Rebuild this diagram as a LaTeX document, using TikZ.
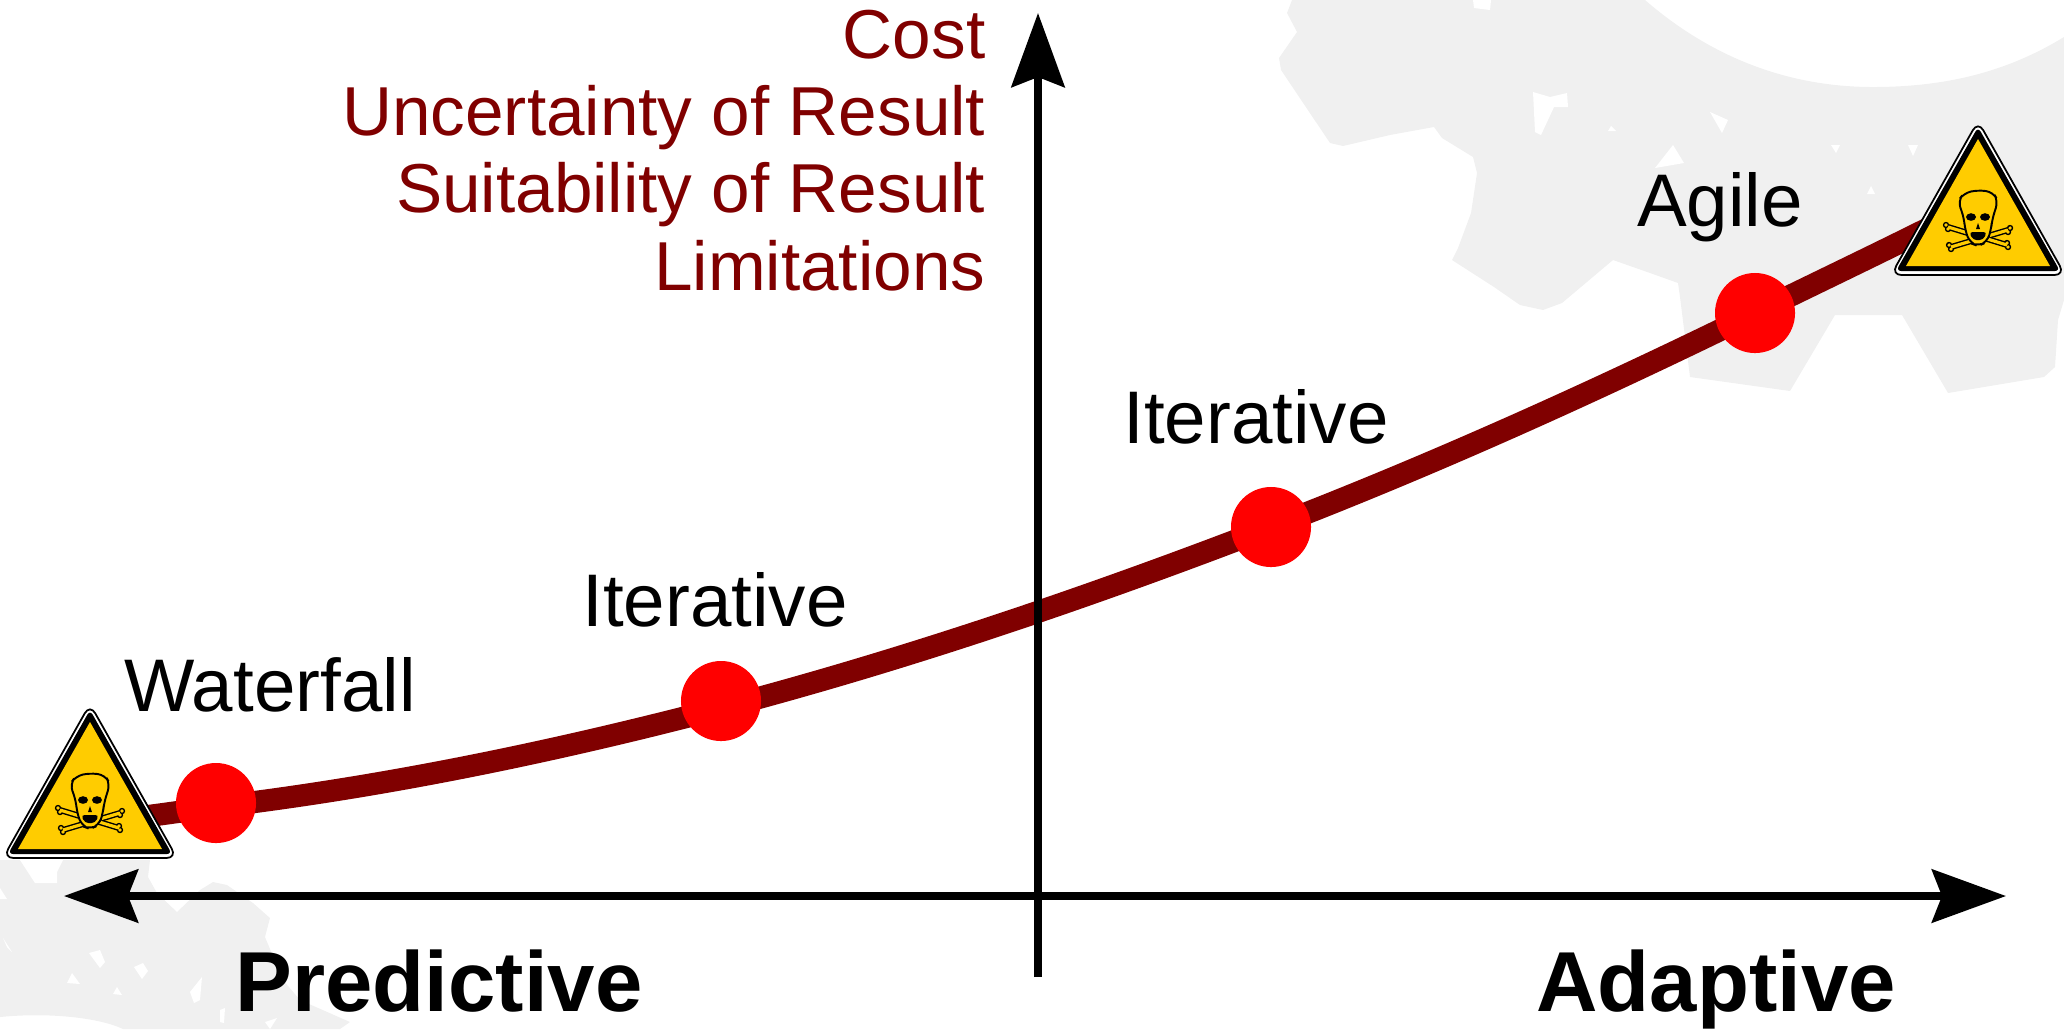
\documentclass[tikz,border=0pt]{standalone}
\usepackage{fontspec}
\setmainfont{Liberation Sans}
\usetikzlibrary{
    arrows.meta,
    backgrounds
}
\definecolor{signyellow}{HTML}{FFCC00}
\definecolor{curvered}{HTML}{800000}
\definecolor{blobgray}{HTML}{F0F0F0}
\newcommand{\hazardsign}[1]{%
    \begin{scope}[shift={(#1)}]
        \filldraw[fill=white, draw=black, line width=0.5pt, rounded corners=3pt] (0,-154) -- (-87,0) -- (87,0) -- cycle;
        \fill[black, rounded corners=1.5pt] (0,-148) -- (-82,-4) -- (82,-4) -- cycle;
        \fill[signyellow] (0,-136) -- (-72,-9) -- (72,-9) -- cycle;
        % Bones
        \foreach \kx/\ky in {-32/-50, -30/-46, 29/-32, 30/-28, 32/-47, 30/-43, -29/-30, -27/-26} {
            \fill[black] (\kx,\ky) circle (3.2);
        }
        \foreach \bx/\by/\ex/\ey in {-30/-48/29/-30, 30/-45/-27/-28} {
            \draw[black, line width=1.7pt] (\bx,\by) -- (\ex,\ey);
        }
        \foreach \kx/\ky in {-32/-50, -30/-46, 29/-32, 30/-28, 32/-47, 30/-43, -29/-30, -27/-26} {
            \fill[signyellow] (\kx,\ky) circle (1.8);
        }
        \foreach \bx/\by/\ex/\ey in {-30/-48/29/-30, 30/-45/-27/-28} {
            \draw[signyellow, line width=0.9pt] (\bx,\by) -- (\ex,\ey);
        }
        % Skull
        \filldraw[fill=signyellow, draw=black, line width=0.55pt, rounded corners=2pt]
            (-14,-57) -- (-20,-74) -- (-14,-82) -- (0,-85) -- (15,-83) -- (20,-74) -- (14,-55)
            -- (13,-45) -- (9,-33) -- (0,-29) -- (-8,-32) -- (-13,-45) -- cycle;
        \fill[black] (-7,-58) ellipse (5 and 3.8);
        \fill[black] (7,-58) ellipse (5 and 3.8);
        \fill[black] (0,-52) -- (-2,-46) -- (2,-46) -- cycle;
        \fill[black, rounded corners=1pt] (-9,-43) -- (9,-43) -- (5,-35) -- (-5,-35) -- cycle;
    \end{scope}
}

\begin{document}
\begin{tikzpicture}[
        x=0.01cm, y=-0.01cm,
        dot/.style={circle, fill=red, minimum size=0.8cm, inner sep=0pt},
        steplabel/.style={anchor=base, inner sep=0pt, font=\fontsize{21.2}{22}\selectfont},
        endlabel/.style={anchor=base, inner sep=0pt, font=\fontsize{24.2}{26}\selectfont\bfseries},
        axis/.style={line width=2.2pt, {Stealth[length=0.74cm, width=0.53cm, inset=0.1cm]}-{Stealth[length=0.74cm, width=0.53cm, inset=0.1cm]}},
        axisup/.style={line width=2.2pt, -{Stealth[length=0.74cm, width=0.53cm, inset=0.1cm]}},
        curve/.style={curvered, line width=6.3pt}
    ]
    \useasboundingbox (0,0) rectangle (2064,1029);

    % Points on the curve
    \node[dot] (waterfall) at (216,803) {};
    \node[dot] (iterlow) at (721,701) {};
    \node[dot] (iterhigh) at (1271,527) {};
    \node[dot] (agile) at (1755,313) {};
    \coordinate (curvestart) at (140,817);
    \coordinate (curveend) at (1935,225);

    \begin{pgfonlayer}{background}
        % Gray shape top right
        \fill[blobgray] (1292,0) -- (1287,13) -- (1297,32) -- (1279,58) -- (1281,70) -- (1330,143) -- (1343,146)
            -- (1390,135) -- (1434,127) -- (1442,138) -- (1473,157) -- (1477,173) -- (1471,213) -- (1458,248)
            -- (1452,260) -- (1494,287) -- (1520,305) -- (1543,310) -- (1562,303) -- (1613,260) -- (1650,273) -- (1678,283)
            -- (1680,297) -- (1690,377) -- (1790,391) -- (1835,315) -- (1902,315) -- (1948,393) -- (2044,377)
            -- (2055,367) -- (2058,320) -- (2064,300) -- (2064,37)
            .. controls (2010,70) and (1950,87) .. (1873,87)
            .. controls (1800,87) and (1720,65) .. (1645,0) -- cycle;
        \foreach \pts in {
            {(1533,92) -- (1550,97) -- (1567,93) -- (1568,107) -- (1554,107) -- (1541,135) -- (1535,132)},
            {(1473,0) -- (1491,0) -- (1490,10) -- (1474,8)},
            {(1710,112) -- (1728,120) -- (1722,133)},
            {(1673,145) -- (1684,163) -- (1655,168)},
            {(1611,126) -- (1616,131) -- (1608,131)},
            {(1831,145) -- (1840,145) -- (1836,153)},
            {(1908,145) -- (1918,145) -- (1913,156)},
            {(1871,186) -- (1875,194) -- (1867,194)}
        } {
            \fill[white] \pts -- cycle;
        }
        % Gray shape bottom left
        \fill[blobgray] (0,860) -- (150,860) -- (148,877) -- (157,893) -- (177,912) -- (200,890) -- (213,882) -- (227,885)
            -- (253,903) -- (270,918) -- (265,937) -- (283,980) -- (300,1000) -- (350,1022) -- (340,1029) -- (123,1029)
            .. controls (100,1018) and (50,1012) .. (0,1017) -- cycle;
        \foreach \pts in {
            {(20,860) -- (35,883) -- (57,883) -- (57,872) -- (63,860)},
            {(0,888) -- (7,899) -- (0,899)},
            {(3,938) -- (12,952) -- (7,947)},
            {(89,953) -- (100,950) -- (105,962) -- (100,968)},
            {(134,967) -- (143,963) -- (148,971) -- (142,979)},
            {(72,973) -- (80,984) -- (67,983)},
            {(117,987) -- (122,995) -- (113,994)},
            {(190,992) -- (202,977) -- (200,1000) -- (194,1003)},
            {(220,1010) -- (225,1008) -- (224,1023) -- (220,1022)},
            {(265,1022) -- (277,1018) -- (270,1029)}
        } {
            \fill[white] \pts -- cycle;
        }
        % Curve
        \draw[curve] (curvestart)
            .. controls +(25,-3) and +(-25,3) .. ([yshift=-1.1pt]waterfall.center)
            .. controls +(168,-20) and +(-168,44) .. ([yshift=-2pt]iterlow.center)
            .. controls +(183,-48) and +(-183,70.5) .. (iterhigh.center)
            .. controls +(161,-62) and +(-161,79) .. (agile.center)
            .. controls +(60,-29.4) and +(-60,30) .. (curveend);
    \end{pgfonlayer}

    % Warning signs
    \hazardsign{90,858}
    \hazardsign{1978,275}

    % Axes
    \coordinate (axisbottom) at (1038,977);
    \coordinate (axistop) at (1038,13);
    \coordinate (axisleft) at (64,896);
    \coordinate (axisright) at (2006,896);
    \draw[axisup] (axisbottom) -- (axistop);
    \draw[axis] (axisleft) -- (axisright);

    % Labels
    \node[anchor=north east, align=right, inner sep=0pt, text=curvered, font=\fontsize{19.7}{22}\selectfont] (vertlabel) at (986,9) {
        Cost\\
        Uncertainty of Result\\
        Suitability of Result\\
        Limitations
    };
    \node[steplabel] (waterfalllabel) at (270,711) {Waterfall};
    \node[steplabel] (iterlowlabel) at (715,626) {Iterative};
    \node[steplabel] (iterhighlabel) at (1256,443) {Iterative};
    \node[steplabel] (agilelabel) at (1720,226) {Agile};
    \node[endlabel] (predictive) at (439,1011) {Predictive};
    \node[endlabel] (adaptive) at (1716,1011) {Adaptive};
\end{tikzpicture}
\end{document}
